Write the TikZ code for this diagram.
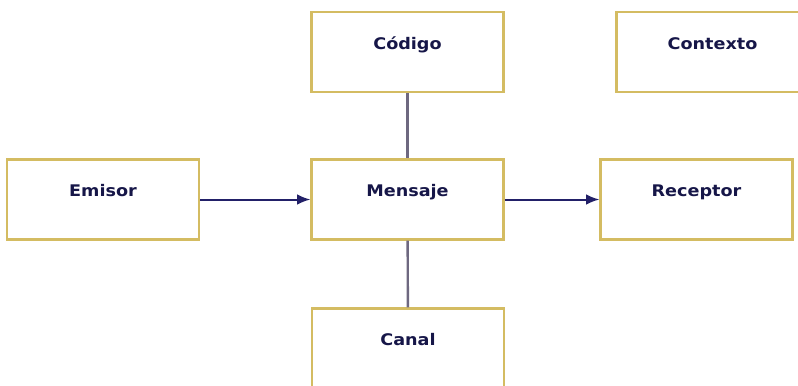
\documentclass[tikz,border=0pt]{standalone}
\usepackage{fontspec}
\newfontfamily\boxfont{DejaVu Sans}[FakeStretch=1.1]
\usetikzlibrary{arrows.meta}
\definecolor{boxline}{RGB}{212,188,98}
\definecolor{boxtext}{RGB}{22,22,72}
\definecolor{flowline}{RGB}{34,32,104}
\definecolor{linkline}{RGB}{110,104,128}
\tikzset{
  box/.style={draw=boxline, line width=1.6pt, fill=white, minimum width=192*0.75pt, minimum height=80*0.75pt,
    inner sep=0pt, text=boxtext, font=\boxfont\bfseries\fontsize{12}{14}\selectfont, text height=8.5pt, text depth=12.5pt},
  flow/.style={draw=flowline, line width=1.5pt, -{Latex[length=10pt,width=8pt]}},
  link/.style={draw=linkline, line width=1.8pt}
}
\begin{document}
\begin{tikzpicture}[x=0.75pt,y=0.75pt,yscale=-1,xscale=1]
\useasboundingbox (0,0) rectangle (798,385);

% Boxes
\node [box] (codigo) at (407.5,52) {Código};
\node [box] (contexto) at (712.5,52) {Contexto};
\node [box] (emisor) at (103,199.5) {Emisor};
\node [box] (mensaje) at (407.5,199.5) {Mensaje};
\node [box] (receptor) at (696.5,199.5) {Receptor};
\node [box] (canal) at (408,348.5) {Canal};

% Connectors
\draw [flow] (emisor) -- (mensaje);
\draw [flow] (mensaje) -- (receptor);
\draw [link] (codigo) -- (mensaje);
\draw [link] (mensaje) -- (canal);

\end{tikzpicture}
\end{document}
